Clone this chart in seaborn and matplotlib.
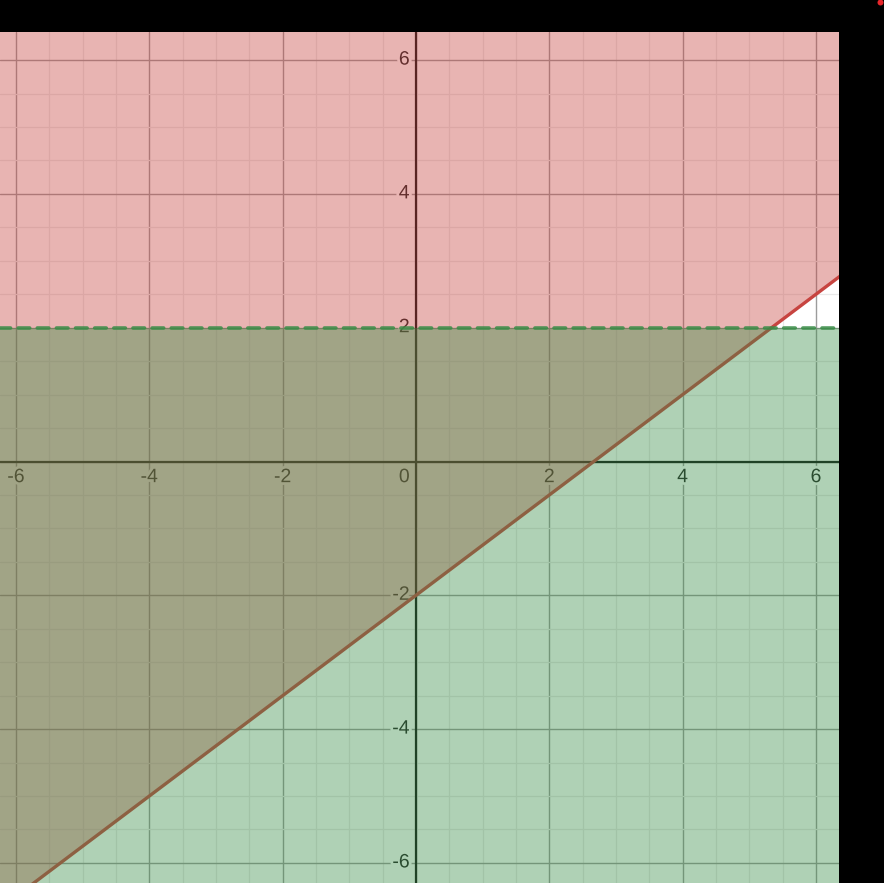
import matplotlib
matplotlib.use('Agg')
import matplotlib.pyplot as plt
import matplotlib.patheffects as pe
from matplotlib.patches import Circle
from matplotlib.ticker import MultipleLocator
import seaborn as sns
import pandas as pd

# boundary lines
solid_x = [-6.5, 6.5]          # y >= 0.75x - 2 (solid, red)
solid_y = [-6.875, 2.875]
dashed_x = [-6.5, 6.5]         # y < 2 (dashed, green)
dashed_y = [2.0, 2.0]

x_ticks = [-6, -4, -2, 2, 4, 6]
y_ticks = [-6, -4, -2, 2, 4, 6]

RED = '#c74440'
GREEN = '#388c46'

sns.set_theme(style='white')
plt.rcParams['font.family'] = ['Liberation Sans', 'DejaVu Sans']

fig = plt.figure(figsize=(8.84, 8.83), dpi=100, facecolor='black')
ax = fig.add_axes([0, 0, 839 / 884, 851 / 883])
ax.set_facecolor('white')

# grid
ax.xaxis.set_major_locator(MultipleLocator(2))
ax.yaxis.set_major_locator(MultipleLocator(2))
ax.xaxis.set_minor_locator(MultipleLocator(0.5))
ax.yaxis.set_minor_locator(MultipleLocator(0.5))
ax.set_axisbelow(True)
ax.grid(which='minor', color='#e9e9e9', lw=0.9)
ax.grid(which='major', color='#9c9c9c', lw=1.0)
ax.tick_params(which='both', length=0, labelbottom=False, labelleft=False)
for s in ax.spines.values():
    s.set_visible(False)

ax.axhline(0, color='#111111', lw=1.6, zorder=1)
ax.axvline(0, color='#111111', lw=1.6, zorder=1)

# tick labels with white halo, under the fills
halo = [pe.withStroke(linewidth=4, foreground='white')]
fs = 14
for v in x_ticks:
    ax.annotate(str(v), (v, 0), xytext=(0, -5.5), textcoords='offset points',
                ha='center', va='top', fontsize=fs, color='#222222',
                path_effects=halo, zorder=2)
for v in y_ticks:
    ax.annotate(str(v), (0, v), xytext=(-4.5, 0), textcoords='offset points',
                ha='right', va='center', fontsize=fs, color='#222222',
                path_effects=halo, zorder=2)
ax.annotate('0', (0, 0), xytext=(-4.5, -5.5), textcoords='offset points',
            ha='right', va='top', fontsize=fs, color='#222222',
            path_effects=halo, zorder=2)

# red region: above solid line
ax.fill_between(solid_x, solid_y, 20, color=RED, alpha=0.4, lw=0, zorder=3)
sns.lineplot(data=pd.DataFrame({'x': solid_x, 'y': solid_y}), x='x', y='y',
             color=RED, lw=2.4, ax=ax, zorder=4)

# green region: below dashed line
ax.fill_between(dashed_x, -20, dashed_y, color=GREEN, alpha=0.4, lw=0, zorder=5)
sns.lineplot(data=pd.DataFrame({'x': dashed_x, 'y': dashed_y}), x='x', y='y',
             color=GREEN, lw=2.6, ax=ax, zorder=6, alpha=0.85,
             linestyle=(0, (3.2, 2.1)), dash_capstyle='round')

ax.set_xlabel('')
ax.set_ylabel('')
ax.set_xlim(-6.24, 6.345)
ax.set_ylim(-6.30, 6.42)

# small red dot in the top right corner
fig.add_artist(Circle((8.805, 8.805), 0.03, transform=fig.dpi_scale_trans,
                      color='#e8262b', lw=0))

fig.savefig('out.png', dpi=100, facecolor='black')
